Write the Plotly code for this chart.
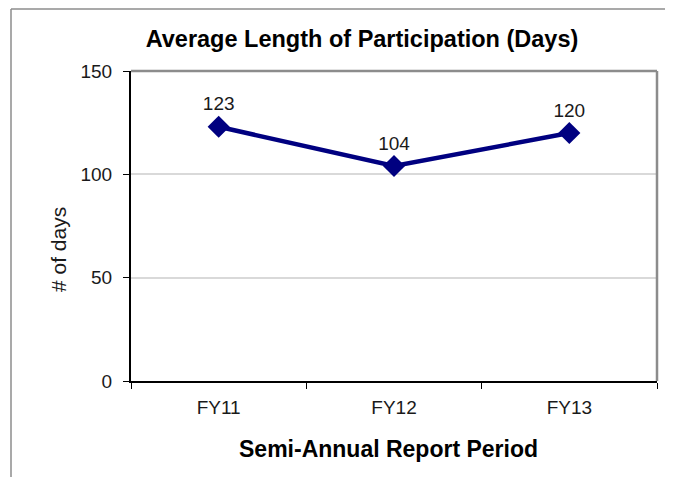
import plotly.graph_objects as go

categories = ["FY11", "FY12", "FY13"]
values = [123, 104, 120]
y_ticks = [0, 50, 100, 150]

FONT = "Liberation Sans, Arial, Helvetica, sans-serif"

# page is rendered with an 8px body margin; figure sized to fit
W, H = 665, 469
L, T, R, B = 123, 63, 16, 96
PW, PH = W - L - R, H - T - B

fig = go.Figure()
fig.add_trace(go.Scatter(
    x=categories, y=values,
    mode="lines+markers+text",
    text=[str(v) for v in values],
    textposition="top center",
    textfont=dict(size=19, color="#1a1a1a", family=FONT),
    line=dict(color="#000080", width=4.5),
    marker=dict(symbol="diamond", size=17, color="#000080"),
    cliponaxis=False,
    showlegend=False,
))

fig.update_layout(
    width=W, height=H,
    margin=dict(l=L, r=R, t=T, b=B),
    paper_bgcolor="white", plot_bgcolor="white",
    font=dict(family=FONT, color="#1a1a1a"),
    title=dict(text="<b>Average Length of Participation (Days)</b>",
               x=354 / W, xanchor="center", xref="container",
               y=1 - 31 / H, yanchor="middle", yref="container",
               font=dict(size=23.5, color="black", family=FONT)),
    xaxis=dict(
        type="category", range=[-0.5, 2.5],
        showline=True, linecolor="black", linewidth=2,
        ticks="outside", tickson="boundaries", ticklen=6, tickcolor="black", tickwidth=1,
        showgrid=False,
        ticklabelstandoff=8,
        tickfont=dict(size=19, color="#1a1a1a"),
    ),
    yaxis=dict(
        range=[0, 150], tickvals=y_ticks,
        showline=True, linecolor="black", linewidth=2,
        ticks="outside", ticklen=6, tickcolor="black", tickwidth=1,
        showgrid=True, gridcolor="#d9d9d9", gridwidth=1.5,
        zeroline=False,
        ticklabelstandoff=7,
        tickfont=dict(size=19, color="#1a1a1a"),
    ),
    annotations=[
        dict(text="<b>Semi-Annual Report Period</b>", xref="paper", yref="paper",
             x=(380 - L) / PW, y=-(441 - (T + PH)) / PH,
             xanchor="center", yanchor="middle", showarrow=False,
             font=dict(size=23, color="black", family=FONT)),
        dict(text="# of days", xref="paper", yref="paper",
             x=(50 - L) / PW, y=((T + PH) - 242) / PH, textangle=-90,
             xanchor="center", yanchor="middle", showarrow=False,
             font=dict(size=21, color="#1a1a1a", family=FONT)),
    ],
    shapes=[
        dict(type="line", xref="paper", yref="paper", x0=0, x1=1, y0=1, y1=1,
             line=dict(color="#8c8c8c", width=2.5), layer="above"),
        dict(type="line", xref="paper", yref="paper", x0=1, x1=1, y0=0, y1=1,
             line=dict(color="#8c8c8c", width=2.5), layer="above"),
        dict(type="line", xref="paper", yref="paper",
             x0=(3 - L) / PW, x1=(W - L) / PW, y0=1 + (T - 1) / PH, y1=1 + (T - 1) / PH,
             line=dict(color="#8c8c8c", width=1.5)),
        dict(type="line", xref="paper", yref="paper",
             x0=(3 - L) / PW, x1=(3 - L) / PW, y0=1 + (T - 1) / PH, y1=-B / PH,
             line=dict(color="#8c8c8c", width=1.5)),
    ],
)

fig.write_html("out.html")
